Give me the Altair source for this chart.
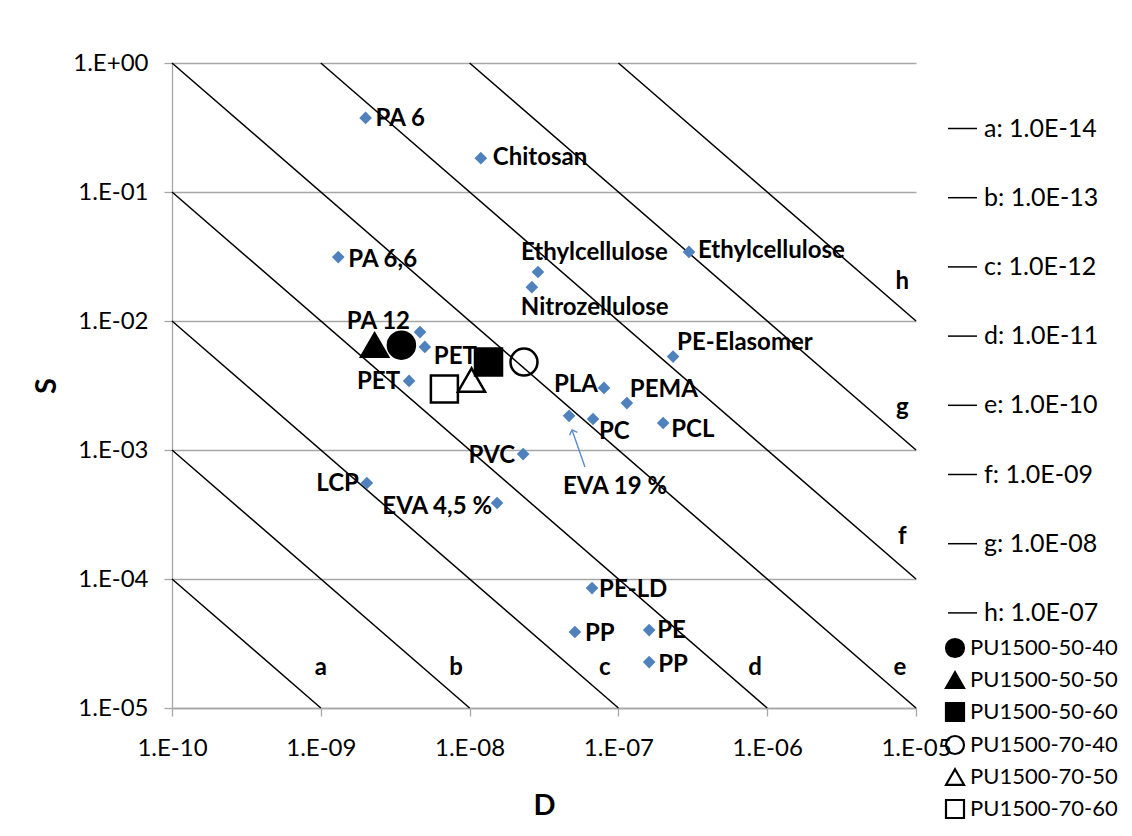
import altair as alt
import pandas as pd

# ---------------- data ----------------
names = ["PA 6", "Chitosan", "PA 6,6", "Ethylcellulose", "Nitrozellulose", "Ethylcellulose",
         "PE-Elasomer", "PA 12", "PET", "PET", "PVC", "LCP", "EVA 4,5 %", "PLA", "PEMA",
         "EVA 19 %", "PC", "PCL", "PE-LD", "PP", "PE", "PP"]
D_vals = [2.0e-9, 1.19e-8, 1.31e-9, 2.88e-8, 2.62e-8, 2.98e-7,
          2.33e-7, 4.64e-9, 5.0e-9, 3.92e-9, 2.29e-8, 2.04e-9, 1.53e-8, 8.0e-8, 1.14e-7,
          4.66e-8, 6.75e-8, 2.0e-7, 6.65e-8, 5.1e-8, 1.61e-7, 1.61e-7]
S_vals = [0.375, 0.183, 0.0313, 0.024, 0.0183, 0.0343,
          0.0053, 0.0082, 0.0063, 0.00343, 0.00093, 5.55e-4, 3.88e-4, 0.00303, 0.00231,
          0.00184, 0.00174, 0.00162, 8.5e-5, 3.88e-5, 4.02e-5, 2.27e-5]

pu_names = ["PU1500-50-40", "PU1500-50-50", "PU1500-50-60",
            "PU1500-70-40", "PU1500-70-50", "PU1500-70-60"]
pu_D = [3.48e-9, 2.30e-9, 1.34e-8, 2.32e-8, 1.03e-8, 6.77e-9]
pu_S = [0.0065, 0.0065, 0.0048, 0.0048, 0.00349, 0.00297]

line_letters = ["a", "b", "c", "d", "e", "f", "g", "h"]
line_P = [1e-14, 1e-13, 1e-12, 1e-11, 1e-10, 1e-9, 1e-8, 1e-7]
line_legend = ["a: 1.0E-14", "b: 1.0E-13", "c: 1.0E-12", "d: 1.0E-11",
               "e: 1.0E-10", "f: 1.0E-09", "g: 1.0E-08", "h: 1.0E-07"]
# where the letters a..h sit
letter_D = [1.0e-9, 8.1e-9, 8.1e-8, 8.3e-7, 7.8e-6, 8.1e-6, 8.1e-6, 8.1e-6]
letter_S = [2.04e-5, 2.04e-5, 2.04e-5, 2.04e-5, 2.04e-5, 2.12e-4, 2.12e-3, 2.0e-2]

# EVA 19 % annotation arrow (tail, head)
arrow_D = [5.96e-8, 4.88e-8]
arrow_S = [7.38e-4, 1.43e-3]

x_ticks = [1e-10, 1e-9, 1e-8, 1e-7, 1e-6, 1e-5]
x_tick_labels = ["1.E-10", "1.E-09", "1.E-08", "1.E-07", "1.E-06", "1.E-05"]
y_ticks = [1e-5, 1e-4, 1e-3, 1e-2, 1e-1, 1]
y_tick_labels = ["1.E-05", "1.E-04", "1.E-03", "1.E-02", "1.E-01", "1.E+00"]

D_MIN, D_MAX, S_MIN, S_MAX = 1e-10, 1e-5, 1e-5, 1.0

# label placement (dx, dy, align) for each material label
label_place = [(10, 1, "left"), (12, 0, "left"), (10, 3, "left"), (-17, -19, "left"),
               (-11, 21, "left"), (9, -1, "left"), (4, -14, "left"), (-10, -10, "right"),
               (9, 10, "left"), (-9, 1, "right"), (-8, 2, "right"), (-8, 1, "right"),
               (-5, 4, "right"), (-6, -3, "right"), (3, -13, "left"), (-6, 71, "left"),
               (6, 13, "left"), (8, 7, "left"), (7, 2, "left"), (10, 2, "left"),
               (8, 1, "left"), (9, 3, "left")]

# ---------------- tables ----------------
pts = pd.DataFrame({"id": list(range(len(names))), "name": names, "D": D_vals, "S": S_vals})
pu = pd.DataFrame({"series": pu_names, "D": pu_D, "S": pu_S})

rows = []
for lab, P in zip(line_legend, line_P):
    d0 = max(D_MIN, P / S_MAX)
    d1 = min(D_MAX, P / S_MIN)
    rows.append({"line": lab, "D": d0, "S": P / d0, "o": 0})
    rows.append({"line": lab, "D": d1, "S": P / d1, "o": 1})
lines = pd.DataFrame(rows)
letters = pd.DataFrame({"t": line_letters, "D": letter_D, "S": letter_S})
arrow = pd.DataFrame({"D": arrow_D, "S": arrow_S, "o": [0, 1]})

# ---------------- encodings ----------------
FONT = "Lato"
x_expr = "[" + ",".join("'%s'" % s for s in x_tick_labels) + "][round(log(datum.value)/LN10)+10]"
y_expr = "[" + ",".join("'%s'" % s for s in y_tick_labels) + "][round(log(datum.value)/LN10)+5]"

xscale = alt.Scale(type="log", domain=[D_MIN, D_MAX], nice=False)
yscale = alt.Scale(type="log", domain=[S_MIN, S_MAX], nice=False)
xaxis = alt.Axis(values=x_ticks, labelExpr=x_expr, grid=False, tickSize=8,
                 labelFont=FONT, labelFontSize=24, labelColor="black", labelPadding=20,
                 domainColor="#A6A6A6", tickColor="#A6A6A6", domainWidth=1.3, tickWidth=1.3,
                 title="D", titleFont=FONT, titleFontSize=29, titleFontWeight="bold",
                 titleColor="black", titlePadding=31, labelFlush=False, labelOverlap=False)
yaxis = alt.Axis(values=y_ticks, labelExpr=y_expr, grid=True, gridColor="#A6A6A6",
                 gridWidth=1.3, tickSize=8, labelFont=FONT, labelFontSize=24,
                 labelColor="black", labelPadding=16, domainColor="#A6A6A6",
                 tickColor="#A6A6A6", domainWidth=1.3, tickWidth=1.3,
                 title="S", titleFont=FONT, titleFontSize=29, titleFontWeight="bold",
                 titleColor="black", titlePadding=11, labelFlush=False, labelOverlap=False)

X = alt.X("D:Q", scale=xscale, axis=xaxis)
Y = alt.Y("S:Q", scale=yscale, axis=yaxis)

line_layer = alt.Chart(lines).mark_line(strokeWidth=1.5).encode(
    x=X, y=Y, order="o:Q",
    stroke=alt.Stroke("line:N", scale=alt.Scale(domain=line_legend, range=["black"] * 8),
                      legend=alt.Legend(title=None, orient="none", legendX=775, legendY=50,
                                        symbolType="stroke", symbolSize=841,
                                        symbolStrokeWidth=1.5, symbolStrokeColor="black",
                                        labelFont=FONT, labelFontSize=25, labelColor="black",
                                        labelLimit=400, rowPadding=40.2, padding=0,
                                        labelOffset=6)),
)

diamonds = alt.Chart(pts).mark_point(shape="diamond", filled=True, size=160,
                                     color="#4F81BD", opacity=1).encode(x=X, y=Y)

pu_legend = alt.Legend(title=None, orient="none", legendX=772, legendY=574,
                       symbolSize=324, symbolStrokeColor="black", symbolStrokeWidth=2.2,
                       labelFont=FONT, labelFontSize=22, labelColor="black",
                       labelLimit=400, rowPadding=5, padding=0, labelOffset=4)
pu_layer = alt.Chart(pu).mark_point(filled=False, size=729, color="black",
                                    strokeWidth=2.5, opacity=1).encode(
    x=X, y=Y,
    shape=alt.Shape("series:N", scale=alt.Scale(
        domain=pu_names,
        range=["circle", "triangle-up", "square", "circle", "triangle-up", "square"]),
        legend=pu_legend),
    fill=alt.Fill("series:N", scale=alt.Scale(
        domain=pu_names,
        range=["black", "black", "black", "transparent", "transparent", "transparent"]),
        legend=pu_legend),
    stroke=alt.Stroke("series:N", scale=alt.Scale(domain=pu_names, range=["black"] * 6),
                      legend=pu_legend),
)

label_layers = []
for i, (dx, dy, al) in enumerate(label_place):
    label_layers.append(
        alt.Chart(pts).transform_filter(alt.datum.id == i).mark_text(
            align=al, baseline="middle", dx=dx, dy=dy, font=FONT, fontWeight="bold",
            fontSize=24, color="black").encode(x=X, y=Y, text="name:N"))

letter_layer = alt.Chart(letters).mark_text(
    align="center", baseline="middle", font=FONT, fontWeight="bold", fontSize=24,
    color="black").encode(x=X, y=Y, text="t:N")

arrow_line = alt.Chart(arrow).mark_line(color="#5B8BD0", strokeWidth=1.4).encode(
    x=X, y=Y, order="o:Q")
arrow_head = alt.Chart(arrow).transform_filter(alt.datum.o == 1).mark_point(
    shape="M-1,1L0,0L1,1", size=70, angle=340, filled=False, stroke="#5B8BD0",
    strokeWidth=1.4, opacity=1).encode(x=X, y=Y)

chart = alt.layer(line_layer, diamonds, pu_layer, *label_layers, letter_layer,
                  arrow_line, arrow_head).resolve_scale(
    stroke="independent", shape="independent", fill="independent"
).properties(
    width=744, height=645,
    autosize=alt.AutoSizeParams(type="none"),
    padding={"left": 164, "top": 55, "right": 208, "bottom": 116},
    background="white",
).configure_view(strokeWidth=0)

chart.save("out.html", embed_options={"renderer": "svg", "actions": False})
